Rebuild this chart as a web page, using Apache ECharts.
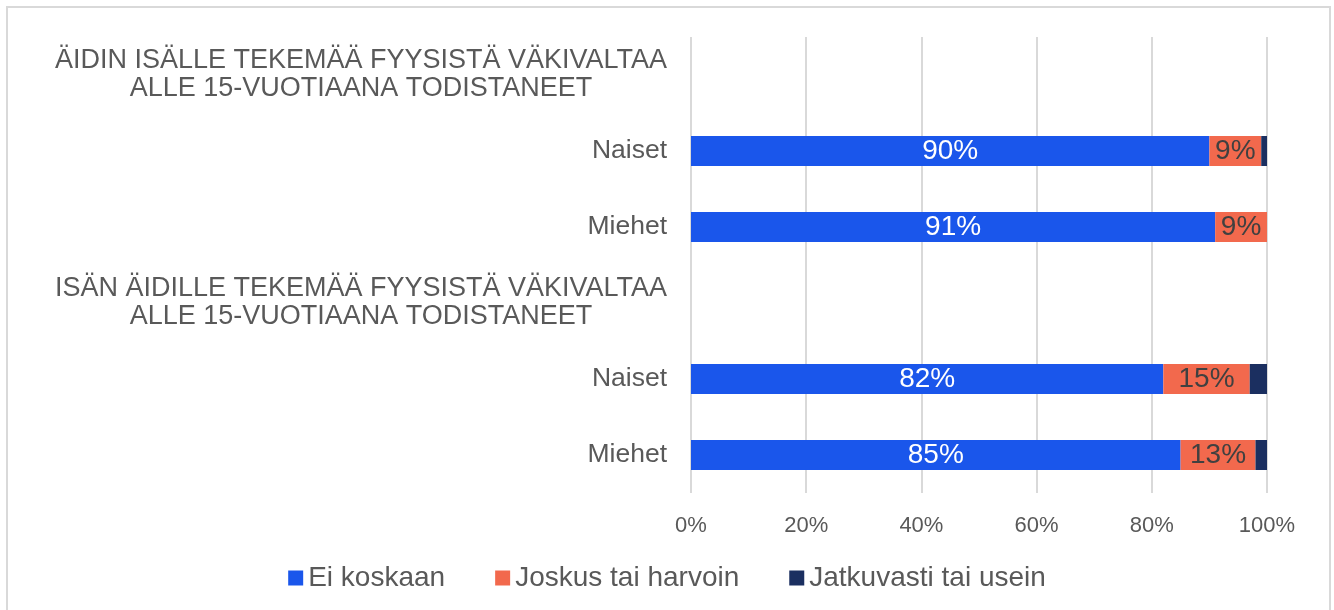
<!DOCTYPE html>
<html>
<head>
<meta charset="utf-8">
<script src="https://cdn.jsdelivr.net/npm/echarts@6/dist/echarts.min.js"></script>
<style>
html,body{margin:0;padding:0;background:#fff;}
#chart{width:1334px;height:610px;}
</style>
</head>
<body>
<div id="chart"></div>
<script>
const categories = [
  'ÄIDIN ISÄLLE TEKEMÄÄ FYYSISTÄ VÄKIVALTAA\nALLE 15-VUOTIAANA TODISTANEET',
  'Naiset',
  'Miehet',
  'ISÄN ÄIDILLE TEKEMÄÄ FYYSISTÄ VÄKIVALTAA\nALLE 15-VUOTIAANA TODISTANEET',
  'Naiset',
  'Miehet'
];
const isHeader = [true, false, false, true, false, false];
const seriesNames = ['Ei koskaan', 'Joskus tai harvoin', 'Jatkuvasti tai usein'];
const eiKoskaan = [null, 90, 91, null, 82, 85];
const joskus = [null, 9, 9, null, 15, 13];
const jatkuvasti = [null, 1, 0, null, 3, 2];
const xTicks = [0, 20, 40, 60, 80, 100];

const colors = ['#1A56EB', '#F2694D', '#1B2F60'];
const FONT = '"Liberation Sans", Arial, sans-serif';

const chart = echarts.init(document.getElementById('chart'));
chart.setOption({
  animation: false,
  graphic: [{
    type: 'rect',
    shape: { x: 7, y: 7, width: 1323, height: 620 },
    style: { fill: 'none', stroke: '#d9d9d9', lineWidth: 2 },
    silent: true
  }],
  grid: { left: 691, right: 67, top: 37, bottom: 117, containLabel: false },
  legend: {
    data: seriesNames,
    top: 559,
    left: 'center',
    itemWidth: 15,
    itemHeight: 15,
    itemGap: 50,
    icon: 'rect',
    textStyle: { fontFamily: FONT, fontSize: 28, color: '#595959' }
  },
  xAxis: {
    type: 'value',
    min: xTicks[0],
    max: xTicks[xTicks.length - 1],
    interval: 20,
    axisLine: { show: false },
    axisTick: { show: false },
    splitLine: { show: true, lineStyle: { color: '#d9d9d9', width: 2 } },
    axisLabel: {
      formatter: '{value}%',
      fontFamily: FONT,
      fontSize: 22,
      color: '#595959',
      margin: 22
    }
  },
  yAxis: {
    type: 'category',
    inverse: true,
    data: categories,
    axisLine: { show: false },
    axisTick: { show: false },
    axisLabel: {
      margin: 24,
      fontFamily: FONT,
      fontSize: 26,
      color: '#595959',
      formatter: function (value, index) {
        if (isHeader[index]) {
          return value.split('\n').map(function (l) { return '{h|' + l + '}'; }).join('\n');
        }
        return '{c|' + value + '}';
      },
      rich: {
        h: { width: 612, align: 'center', fontFamily: FONT, fontSize: 27, lineHeight: 28, color: '#595959' },
        c: { fontFamily: FONT, fontSize: 26.5, color: '#595959' }
      }
    }
  },
  series: [
    {
      name: seriesNames[0], type: 'bar', stack: 'total', data: eiKoskaan,
      barWidth: 30, itemStyle: { color: colors[0] },
      label: { show: true, position: 'inside', formatter: function (p) { return p.value ? p.value + '%' : ''; },
        fontFamily: FONT, fontSize: 28, color: '#ffffff' }
    },
    {
      name: seriesNames[1], type: 'bar', stack: 'total', data: joskus,
      barWidth: 30, itemStyle: { color: colors[1] },
      label: { show: true, position: 'inside', formatter: function (p) { return p.value ? p.value + '%' : ''; },
        fontFamily: FONT, fontSize: 28, color: '#404040' }
    },
    {
      name: seriesNames[2], type: 'bar', stack: 'total', data: jatkuvasti,
      barWidth: 30, itemStyle: { color: colors[2] },
      label: { show: false }
    }
  ]
});
</script>
</body>
</html>
